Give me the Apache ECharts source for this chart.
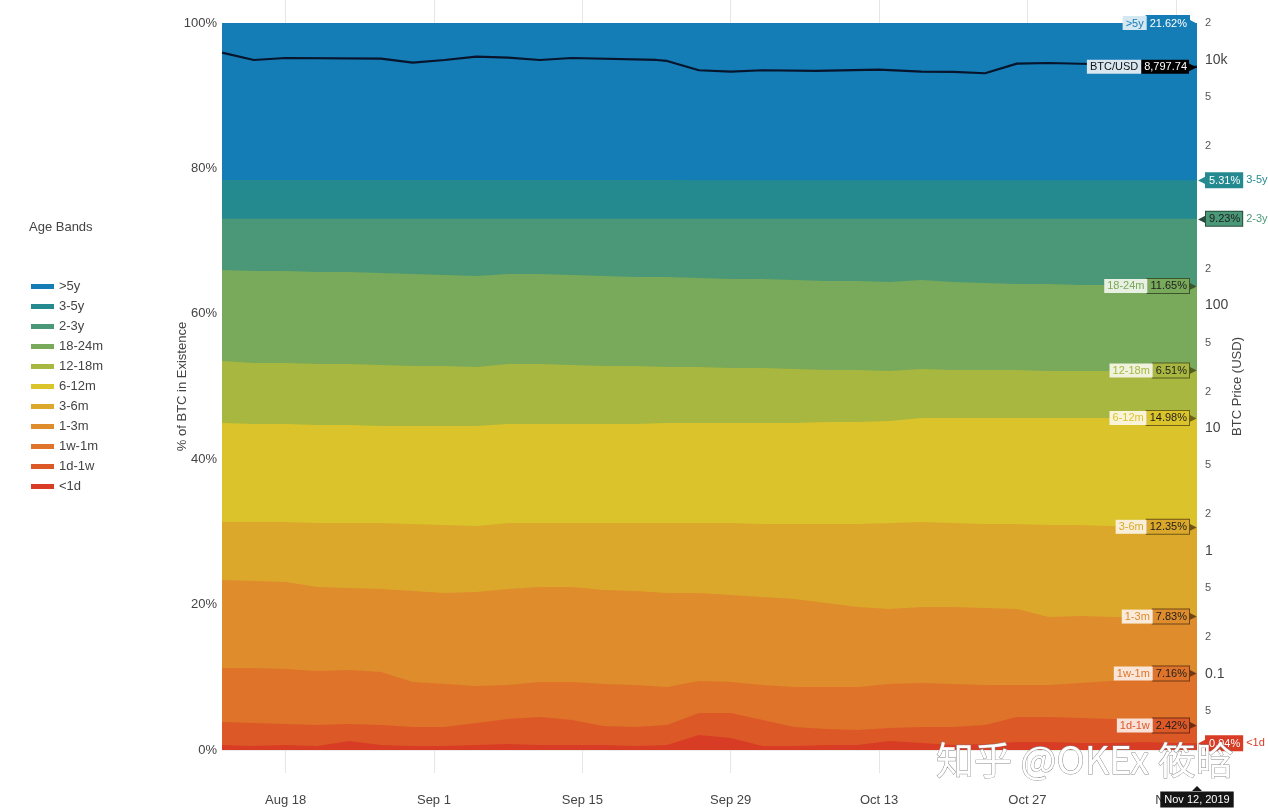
<!DOCTYPE html>
<html><head><meta charset="utf-8">
<script src="https://cdn.jsdelivr.net/npm/echarts@6/dist/echarts.min.js"></script>
<style>html,body{margin:0;padding:0;background:#fff}#c{width:1268px;height:812px}</style>
</head><body><div id="c"></div>
<script>
// ---------- data ----------
const dates = ['2019-08-12','2019-08-15','2019-08-18','2019-08-21','2019-08-24','2019-08-27','2019-08-30','2019-09-02','2019-09-05','2019-09-08','2019-09-11','2019-09-14','2019-09-17','2019-09-20','2019-09-23','2019-09-26','2019-09-29','2019-10-02','2019-10-05','2019-10-08','2019-10-11','2019-10-14','2019-10-17','2019-10-20','2019-10-23','2019-10-26','2019-10-29','2019-11-01','2019-11-04','2019-11-07','2019-11-10','2019-11-12'];
const bandNames = ['>5y','3-5y','2-3y','18-24m','12-18m','6-12m','3-6m','1-3m','1w-1m','1d-1w','<1d'];
const gt5y   = [21.60,21.60,21.60,21.61,21.61,21.61,21.61,21.61,21.61,21.61,21.61,21.61,21.61,21.61,21.61,21.62,21.62,21.62,21.62,21.62,21.62,21.62,21.62,21.62,21.62,21.62,21.62,21.62,21.62,21.62,21.62,21.62];
const y3to5  = [5.33,5.33,5.33,5.32,5.32,5.32,5.32,5.32,5.32,5.32,5.32,5.32,5.32,5.32,5.32,5.31,5.31,5.31,5.31,5.31,5.31,5.31,5.31,5.31,5.31,5.31,5.31,5.31,5.31,5.31,5.31,5.31];
const y2to3  = [7.05,7.18,7.18,7.32,7.32,7.46,7.60,7.73,7.87,7.60,7.60,7.73,7.87,8.01,8.01,8.15,8.28,8.28,8.42,8.56,8.56,8.70,8.42,8.70,8.83,8.97,8.97,9.11,9.11,9.25,9.25,9.23];
const m18to24= [12.51,12.66,12.66,12.66,12.66,12.65,12.65,12.52,12.52,12.38,12.38,12.38,12.38,12.24,12.38,12.24,12.25,12.25,12.24,12.24,12.24,12.24,12.24,12.10,11.97,11.83,11.97,11.83,11.83,11.69,11.69,11.65];
const m12to18= [8.53,8.39,8.39,8.39,8.39,8.39,8.25,8.25,8.11,8.25,8.25,8.12,7.98,7.98,7.70,7.70,7.56,7.56,7.43,7.15,7.15,6.88,6.74,6.60,6.60,6.60,6.46,6.46,6.46,6.46,6.46,6.51];
const m6to12 = [13.62,13.48,13.48,13.48,13.48,13.35,13.48,13.62,13.76,13.62,13.62,13.62,13.62,13.62,13.76,13.76,13.76,13.89,13.89,14.03,14.03,14.03,14.31,14.45,14.58,14.58,14.72,14.72,14.86,14.86,15.00,14.98];
const m3to6  = [7.98,8.11,8.25,8.80,8.94,9.07,9.22,9.35,9.08,9.07,8.80,8.80,9.21,9.35,9.62,9.62,9.90,10.04,10.32,10.87,11.42,11.83,11.69,11.55,11.56,11.70,12.66,12.52,12.52,12.52,12.38,12.35];
const m1to3  = [12.10,11.97,11.97,11.55,11.28,11.42,12.52,12.52,12.93,13.21,13.07,13.07,12.93,12.93,12.93,12.11,11.97,12.11,12.10,11.55,11.00,10.31,10.45,10.59,10.59,10.45,9.35,9.21,8.80,8.39,7.97,7.83];
const w1tom1 = [7.43,7.57,7.56,7.43,7.42,7.29,6.19,5.92,5.09,4.68,4.81,5.22,5.78,5.78,5.23,4.40,4.26,4.81,5.51,5.78,5.92,6.05,6.06,5.92,5.50,4.40,4.40,4.82,5.23,5.64,6.47,7.16];
const d1tow1 = [3.16,3.16,2.89,2.89,2.34,2.75,2.61,2.61,3.02,3.43,3.85,3.44,2.61,2.61,2.75,3.03,3.44,3.58,2.61,2.20,2.06,1.79,2.20,2.47,2.61,3.44,3.44,3.44,3.30,3.16,2.89,2.42];
const lt1d   = [0.69,0.55,0.69,0.55,1.24,0.69,0.55,0.55,0.69,0.83,0.69,0.69,0.69,0.55,0.69,2.06,1.65,0.55,0.55,0.69,0.69,1.24,0.96,0.69,0.83,1.10,1.10,0.96,0.96,1.10,0.96,0.94];
const bandValues = [gt5y,y3to5,y2to3,m18to24,m12to18,m6to12,m3to6,m1to3,w1tom1,d1tow1,lt1d];

const priceDates  = ['2019-08-12','2019-08-15','2019-08-18','2019-08-27','2019-08-30','2019-09-02','2019-09-05','2019-09-08','2019-09-11','2019-09-14','2019-09-22','2019-09-23','2019-09-26','2019-09-29','2019-10-02','2019-10-07','2019-10-13','2019-10-17','2019-10-20','2019-10-23','2019-10-26','2019-10-29','2019-11-03','2019-11-12'];
const priceValues = [11470,10000,10380,10250,9510,10000,10640,10440,10000,10380,10000,9820,8250,8030,8250,8140,8340,8030,7990,7800,9330,9450,9230,8797.74];

const pctTicks   = [0,20,40,60,80,100];
const priceTicks = [0.05,0.1,0.2,0.5,1,2,5,10,20,50,100,200,2000,5000,10000,20000];
const dateTicks  = ['2019-08-18','2019-09-01','2019-09-15','2019-09-29','2019-10-13','2019-10-27','2019-11-10'];
const dateMin = '2019-08-12', dateMax = '2019-11-12', badgeDate = '2019-11-12';

// ---------- styles ----------
const bandColors = {'>5y':'#157db6','3-5y':'#248a90','2-3y':'#4a9877','18-24m':'#79a95a','12-18m':'#a8b73f','6-12m':'#dbc42b','3-6m':'#dca82b','1-3m':'#de8c2c','1w-1m':'#de7329','1d-1w':'#dc5827','<1d':'#d93c25'};
const outsideTags = {'3-5y':true,'2-3y':true,'<1d':true};
const whiteValue = {'>5y':true,'3-5y':true,'<1d':true};
const FONT = '"Liberation Sans", Arial, Helvetica, sans-serif';
const MON = ['Jan','Feb','Mar','Apr','May','Jun','Jul','Aug','Sep','Oct','Nov','Dec'];
const ts = d => +new Date(d + 'T00:00:00');

function mix(hex, hex2, t){
  const a = [1,3,5].map(i=>parseInt(hex.substr(i,2),16));
  const b = [1,3,5].map(i=>parseInt(hex2.substr(i,2),16));
  return 'rgb(' + a.map((v,i)=>Math.round(v+(b[i]-v)*t)).join(',') + ')';
}
function tagLabel(i){
  const name = bandNames[i];
  const c = bandColors[name];
  const outside = !!outsideTags[name];
  const wv = !!whiteValue[name];
  const dark = mix(c,'#000000',0.5);
  return {
    show: true,
    align: outside ? 'left' : 'right',
    verticalAlign: 'middle',
    distance: outside ? 1 : 0,
    fontFamily: FONT,
    formatter: p => {
      const v = bandValues[i][p.dataIndex].toFixed(2) + '%';
      return outside ? '{a|◀}{v|' + v + '}{t|' + name + '}' : '{n|' + name + '}{v|' + v + '}{a|▶}';
    },
    rich: {
      n: {backgroundColor: mix(c,'#ffffff',0.82), color: c, fontSize: 11, fontFamily: FONT, padding: [2,3,1,3], lineHeight: 15},
      v: {backgroundColor: c, color: wv ? '#ffffff' : '#1e1e1e', fontSize: 11, fontFamily: FONT, padding: [2,2,1,3], lineHeight: 15, borderColor: wv ? c : dark, borderWidth: 1},
      a: {color: wv ? c : dark, fontSize: 10, lineHeight: 15},
      t: {color: c, fontSize: 11, fontFamily: FONT, padding: [0,0,0,4]}
    }
  };
}

// Stack built from the band arrays: each band's top edge = sum of itself and all younger bands.
// Areas fill down to 0; older (higher) bands are declared first so younger ones paint over them.
const series = [];
for (let i = 0; i < bandNames.length; i++) {
  const name = bandNames[i];
  const c = bandColors[name];
  const data = dates.map((d, k) => {
    let top = 0;
    for (let j = i; j < bandNames.length; j++) top += bandValues[j][k];
    return [ts(d), +top.toFixed(4)];
  });
  series.push({
    name, type: 'line', xAxisIndex: 0, yAxisIndex: 0,
    data,
    showSymbol: false, symbol: 'none', smooth: false,
    color: c,
    itemStyle: {color: c},
    lineStyle: {width: 0, color: c},
    areaStyle: {color: c, opacity: 1, origin: 'start'},
    emphasis: {disabled: true},
    silent: true,
    endLabel: tagLabel(i)
  });
}
series.push({
  name: 'BTC/USD', type: 'line', xAxisIndex: 0, yAxisIndex: 1,
  data: priceDates.map((d,k)=>[ts(d), priceValues[k]]),
  showSymbol: false, symbol: 'none', z: 5,
  lineStyle: {color: '#07142b', width: 2.2},
  itemStyle: {color: '#07142b'},
  emphasis: {disabled: true}, silent: true,
  endLabel: {
    show: true, align: 'right', verticalAlign: 'middle', distance: 0,
    formatter: p => '{n|BTC/USD}{v|' + p.value[1].toLocaleString('en-US',{minimumFractionDigits:2, maximumFractionDigits:2}) + '}{a|▶}',
    rich: {
      n: {backgroundColor: '#d9e7f1', color: '#111', fontSize: 11, fontFamily: FONT, padding: [2,3,1,3], lineHeight: 15},
      v: {backgroundColor: '#000', color: '#fff', fontSize: 11, fontFamily: FONT, padding: [2,2,1,3], lineHeight: 15},
      a: {color: '#000', fontSize: 10, lineHeight: 15}
    }
  }
});

const dateTickTs = dateTicks.map(ts);
const chart = echarts.init(document.getElementById('c'), null, {renderer: 'canvas'});
const option = {
  animation: false,
  backgroundColor: '#ffffff',
  textStyle: {fontFamily: FONT},
  title: {text: 'Age Bands', left: 24, top: 216, textStyle: {fontSize: 13, fontWeight: 'normal', color: '#444', fontFamily: FONT}},
  legend: {
    data: bandNames, orient: 'vertical', left: 26, top: 275,
    icon: 'rect', itemWidth: 23, itemHeight: 5, itemGap: 7,
    textStyle: {fontSize: 13, color: '#444', fontFamily: FONT}, selectedMode: false
  },
  grid: {left: 222, right: 71, top: 23, bottom: 62},
  xAxis: [{
    type: 'value', min: ts(dateMin), max: ts(dateMax), position: 'bottom', offset: 10,
    axisLine: {show: true, lineStyle: {color: '#ebebeb', width: 1}},
    axisTick: {show: true, customValues: dateTickTs, length: 23, lineStyle: {color: '#e6e6e6'}},
    splitLine: {show: false},
    axisLabel: {customValues: dateTickTs, margin: 34, fontSize: 13, color: '#444', fontFamily: FONT,
      formatter: v => { const d = new Date(v); return MON[d.getMonth()] + ' ' + d.getDate(); }}
  }, {
    type: 'value', min: ts(dateMin), max: ts(dateMax), position: 'top',
    axisLine: {show: false},
    axisTick: {show: true, customValues: dateTickTs, length: 23, lineStyle: {color: '#e6e6e6'}},
    splitLine: {show: false},
    axisLabel: {show: false}
  }],
  yAxis: [{
    type: 'value', min: 0, max: 100, interval: 20, position: 'left',
    name: '% of BTC in Existence', nameLocation: 'middle', nameGap: 33, nameRotate: 90, nameMoveOverlap: false,
    nameTextStyle: {fontSize: 13, color: '#444', fontFamily: FONT},
    axisLine: {show: false}, axisTick: {show: false}, splitLine: {show: false},
    axisLabel: {customValues: pctTicks, formatter: v => v + '%', fontSize: 13, color: '#444', margin: 5, fontFamily: FONT}
  }, {
    type: 'log', logBase: 10, min: 0.0241, max: 20000, position: 'right',
    name: 'BTC Price (USD)', nameLocation: 'middle', nameGap: 34, nameRotate: 90, nameMoveOverlap: false,
    nameTextStyle: {fontSize: 13, color: '#444', fontFamily: FONT},
    axisLine: {show: false}, axisTick: {show: false}, splitLine: {show: false},
    axisLabel: {
      customValues: priceTicks, margin: 8, fontFamily: FONT,
      formatter: v => {
        const e = Math.floor(Math.log10(v) + 1e-9);
        const lead = Math.round(v / Math.pow(10, e));
        if (lead === 1) {
          let s = v >= 1000 ? (v / 1000) + 'k' : String(+v.toPrecision(3));
          return '{m|' + s + '}';
        }
        return '{s|' + lead + '}';
      },
      rich: {m: {fontSize: 14, color: '#444', fontFamily: FONT}, s: {fontSize: 11, color: '#555', fontFamily: FONT}}
    }
  }],
  series
};
chart.setOption(option);

// crosshair date badge and watermark
const px = chart.convertToPixel({xAxisIndex: 0}, ts(badgeDate));
chart.setOption({
  graphic: [
    {type: 'polygon', z: 100, shape: {points: [[px - 5, 791], [px + 5, 791], [px, 786]]}, style: {fill: '#151515'}},
    {type: 'text', z: 100, x: px, y: 799.5, style: {text: 'Nov 12, 2019', fill: '#fff', backgroundColor: '#151515', padding: [3, 4, 2, 4], font: '11px ' + FONT, align: 'center', verticalAlign: 'middle'}},
    {type: 'text', z: 90, x: 936, y: 760, style: {text: '知乎 @OKEx 筱晗', fill: '#ffffff', stroke: '#8a8a8a', lineWidth: 0.9, font: '38px "Noto Sans CJK SC"', verticalAlign: 'middle', align: 'left', shadowColor: 'rgba(0,0,0,0.35)', shadowBlur: 2, shadowOffsetX: 1, shadowOffsetY: 1}}
  ]
});
</script>
</body></html>
